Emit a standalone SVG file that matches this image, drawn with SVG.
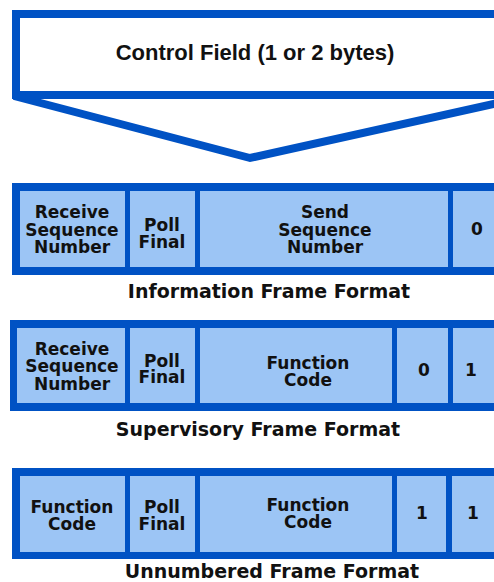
<svg xmlns="http://www.w3.org/2000/svg" width="494" height="582" viewBox="0 0 494 582">
<style>
.bg{fill:#ffffff}
.frame{fill:#0052c4}
.cell{fill:#9cc5f5}
.lbl{font-family:"DejaVu Sans","Verdana",sans-serif;font-weight:bold;font-size:17px;fill:#111111;text-anchor:middle}
.title{font-family:"DejaVu Sans","Verdana",sans-serif;font-weight:bold;font-size:19px;fill:#111111;text-anchor:middle}
.head{font-family:"Liberation Sans","Arial",sans-serif;font-weight:bold;font-size:22px;fill:#111111;text-anchor:middle}
.outline{fill:none;stroke:#0052c4;stroke-width:8}
</style>
<rect class="bg" x="0" y="0" width="494" height="582"/>

<g id="control-field">
  <rect class="outline" x="16" y="14" width="490" height="81" fill="#ffffff"/>
  <polyline class="outline" points="14,96 250,158 498,103" stroke-linejoin="miter"/>
  <text class="head" x="255" y="60">Control Field (1 or 2 bytes)</text>
</g>

<g id="connectors"></g>

<g id="information-frame">
  <rect class="frame" x="12" y="183" width="490" height="92"/>
  <rect class="cell" x="20" y="191" width="105" height="76"/>
  <rect class="cell" x="130" y="191" width="65" height="76"/>
  <rect class="cell" x="200" y="191" width="248" height="76"/>
  <rect class="cell" x="453" y="191" width="50" height="76"/>
  <text class="lbl" x="72" y="218">Receive</text>
  <text class="lbl" x="72" y="236">Sequence</text>
  <text class="lbl" x="72" y="253">Number</text>
  <text class="lbl" x="162" y="231">Poll</text>
  <text class="lbl" x="162" y="248">Final</text>
  <text class="lbl" x="325" y="218">Send</text>
  <text class="lbl" x="325" y="236">Sequence</text>
  <text class="lbl" x="325" y="253">Number</text>
  <text class="lbl" x="477" y="235">0</text>
  <text class="title" x="269" y="298">Information Frame Format</text>
</g>

<g id="supervisory-frame">
  <rect class="frame" x="10" y="320" width="492" height="91"/>
  <rect class="cell" x="17" y="328" width="108" height="75"/>
  <rect class="cell" x="130" y="328" width="65" height="75"/>
  <rect class="cell" x="200" y="328" width="192" height="75"/>
  <rect class="cell" x="397" y="328" width="51" height="75"/>
  <rect class="cell" x="453" y="328" width="50" height="75"/>
  <text class="lbl" x="72" y="355">Receive</text>
  <text class="lbl" x="72" y="372">Sequence</text>
  <text class="lbl" x="72" y="390">Number</text>
  <text class="lbl" x="162" y="367">Poll</text>
  <text class="lbl" x="162" y="383">Final</text>
  <text class="lbl" x="308" y="369">Function</text>
  <text class="lbl" x="308" y="386">Code</text>
  <text class="lbl" x="424" y="376">0</text>
  <text class="lbl" x="471" y="376">1</text>
  <text class="title" x="258" y="436">Supervisory Frame Format</text>
</g>

<g id="unnumbered-frame">
  <rect class="frame" x="12" y="468" width="490" height="91"/>
  <rect class="cell" x="20" y="476" width="105" height="76"/>
  <rect class="cell" x="130" y="476" width="65" height="76"/>
  <rect class="cell" x="200" y="476" width="192" height="76"/>
  <rect class="cell" x="397" y="476" width="49" height="76"/>
  <rect class="cell" x="452" y="476" width="51" height="76"/>
  <text class="lbl" x="72" y="513">Function</text>
  <text class="lbl" x="72" y="530">Code</text>
  <text class="lbl" x="162" y="513">Poll</text>
  <text class="lbl" x="162" y="530">Final</text>
  <text class="lbl" x="308" y="511">Function</text>
  <text class="lbl" x="308" y="528">Code</text>
  <text class="lbl" x="422" y="519">1</text>
  <text class="lbl" x="473" y="519">1</text>
  <text class="title" x="272" y="578">Unnumbered Frame Format</text>
</g>
</svg>
